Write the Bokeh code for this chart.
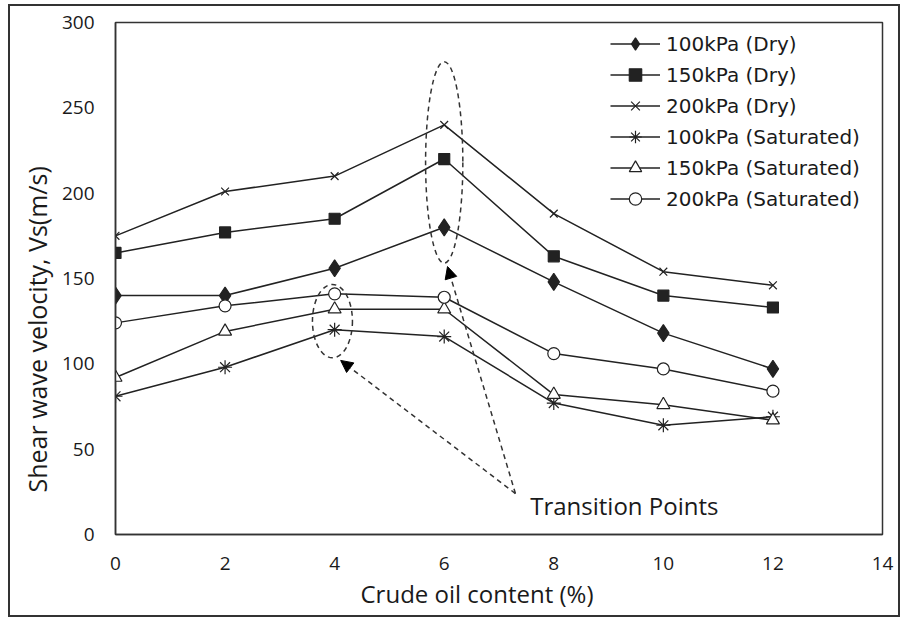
from bokeh.plotting import figure
from bokeh.models import Range1d, Label, Arrow, NormalHead, Legend, LegendItem, FixedTicker, Title
from bokeh.embed import file_html
from bokeh.resources import INLINE

# Crude oil content (%)
oil = [0, 2, 4, 6, 8, 10, 12]

# Shear wave velocity Vs (m/s) per confining pressure / moisture state
dry_100 = [140, 140, 156, 180, 148, 118, 97]
dry_150 = [165, 177, 185, 220, 163, 140, 133]
dry_200 = [175, 201, 210, 240, 188, 154, 146]
sat_100 = [81, 98, 120, 116, 77, 64, 69]
sat_150 = [92, 119, 132, 132, 82, 76, 67]
sat_200 = [124, 134, 141, 139, 106, 97, 84]

series_labels = ["100kPa (Dry)", "150kPa (Dry)", "200kPa (Dry)",
                 "100kPa (Saturated)", "150kPa (Saturated)", "200kPa (Saturated)"]
x_ticks = [0, 2, 4, 6, 8, 10, 12, 14]
y_ticks = [0, 50, 100, 150, 200, 250, 300]

FONT = "Open Sans"
TXT = "#1a1a1a"
INK = "#222222"

p = figure(width=888, height=609, output_backend="svg", toolbar_location=None,
           x_range=Range1d(0, 14), y_range=Range1d(0, 300),
           min_border_left=105, min_border_right=16, min_border_top=16, min_border_bottom=81)
p.margin = (6, 0, 0, 10)
p.styles = {"outline": "2px solid #333333", "outline-offset": "0px"}
p.grid.visible = False
p.outline_line_color = "#333333"
p.outline_line_width = 1.5
p.background_fill_color = "white"
p.border_fill_color = "white"

for ax in (p.xaxis[0], p.yaxis[0]):
    ax.axis_line_color = "#333333"
    ax.axis_line_width = 1.5
    ax.major_tick_line_color = None
    ax.minor_tick_line_color = None
    ax.major_label_text_font = FONT
    ax.major_label_text_font_size = "19px"
    ax.major_label_text_color = TXT
p.xaxis.major_label_standoff = 16
p.yaxis.major_label_standoff = 15
p.xaxis.ticker = FixedTicker(ticks=x_ticks)
p.yaxis.ticker = FixedTicker(ticks=y_ticks)

# marker style per series: (marker, size, fill)
styles = [
    ("diamond", 17, INK),
    ("square", 11, INK),
    ("x", 11, None),
    ("asterisk", 14, None),
    ("triangle", 13, "white"),
    ("circle", 12, "white"),
]

items = []
for vals, label, (marker, size, fc) in zip(
        [dry_100, dry_150, dry_200, sat_100, sat_150, sat_200], series_labels, styles):
    r1 = p.line(oil, vals, line_color=INK, line_width=1.5)
    r2 = p.scatter(oil, vals, marker=marker, size=size,
                   line_color=INK, fill_color=fc, line_width=1.2)
    items.append(LegendItem(label=label, renderers=[r1, r2]))

legend = Legend(items=items, location=(495, 320), orientation="vertical",
                glyph_width=50, glyph_height=31, label_height=31, spacing=0,
                padding=0, margin=0, label_standoff=6,
                label_text_font="DejaVu Sans", label_text_font_size="20px", label_text_color=TXT,
                border_line_alpha=0, background_fill_alpha=0)
p.add_layout(legend)

# Dashed ellipses marking the transition points
p.ellipse(x=[6], y=[218], width=[0.68], height=[118], fill_color=None,
          line_color="#333333", line_width=1.5, line_dash="5 4")
p.ellipse(x=[3.96], y=[125], width=[0.73], height=[43], fill_color=None,
          line_color="#333333", line_width=1.5, line_dash="5 4")

for xe, ye in [(4.11, 102), (6.06, 157)]:
    p.add_layout(Arrow(x_start=7.3, y_start=24, x_end=xe, y_end=ye,
                       line_color="#333333", line_width=1.5, line_dash="5 4",
                       end=NormalHead(size=12, fill_color="black", line_color="black", line_width=1)))

p.add_layout(Label(x=7.57, y=17, text="Transition Points", text_font=FONT,
                   text_font_size="24px", text_color=TXT, text_baseline="middle"))

# Axis titles
p.add_layout(Title(text="Crude oil content (%)", align="left", offset=245,
                   text_font=FONT, text_font_size="24px", text_font_style="normal",
                   text_color=TXT, standoff=5), "below")
p.add_layout(Title(text="Shear wave velocity, Vs(m/s)", align="left", offset=42,
                   text_font=FONT, text_font_size="25px", text_font_style="normal",
                   text_color=TXT, standoff=9), "left")

open("out.html", "w").write(file_html(p, INLINE))
